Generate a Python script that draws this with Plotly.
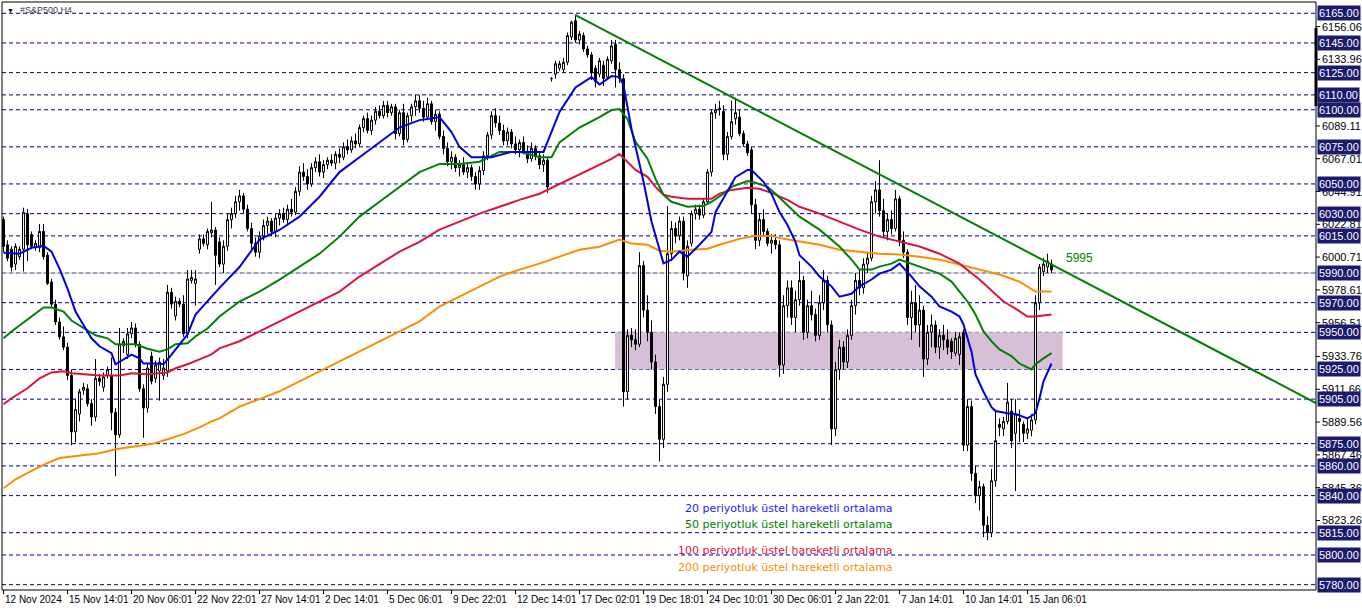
import plotly.graph_objects as go

# ---------------- data ----------------
bar_open = [6026, 6009, 6006, 5996, 6001, 6006, 6030, 6016, 6007, 6007,
            6018, 6002, 5984, 5969, 5957, 5947, 5940, 5921, 5883, 5895,
            5911, 5912, 5902, 5893, 5919, 5913, 5921, 5921, 5896, 5881,
            5941, 5935, 5949, 5953, 5942, 5912, 5899, 5934, 5919, 5924,
            5921, 5924, 5977, 5961, 5971, 5969, 5949, 5985, 5983, 6006,
            6013, 6009, 6017, 6019, 6011,
            5996, 6008, 6026, 6030, 6038, 6042, 6033, 6020, 6010, 6004,
            6015, 6022, 6025, 6018, 6027, 6030, 6026, 6033, 6031, 6045,
            6058, 6055, 6050, 6061, 6065, 6058, 6063, 6066, 6064, 6070,
            6068, 6075, 6073, 6079, 6077, 6088, 6094, 6086, 6093, 6099,
            6096, 6103, 6098, 6102, 6084, 6098, 6080, 6096, 6102, 6106,
            6101, 6095, 6104, 6092, 6097, 6082, 6074, 6065, 6068, 6061,
            6063, 6058, 6061, 6055, 6050, 6059, 6069, 6083, 6096, 6091,
            6086, 6079, 6085, 6077, 6073, 6078, 6072, 6067, 6074, 6069,
            6063, 6066, 6121, 6124, 6128, 6127, 6132, 6149, 6160, 6147,
            6150, 6141, 6137, 6128, 6124, 6130, 6122, 6133, 6144, 6127,
            6121, 5910, 5948, 5945, 5942, 5995, 5965, 5950, 5930, 5900,
            5878, 5915, 6003, 6020, 6015, 6025, 5988, 6010, 6030, 6033,
            6029, 6038, 6058, 6098, 6100, 6099, 6070, 6082, 6094, 6095,
            6084, 6077, 6073, 6036, 6012, 6026, 6018, 6010, 6012, 6009,
            5928, 5968, 5980, 5960, 5972, 5985, 5950, 5968, 5962, 5948,
            5970, 5985, 5955, 5885, 5925, 5940, 5930, 5948, 5968, 5985,
            5980, 5996, 6000, 6038, 6046, 6032, 6018, 6026, 6020, 6040,
            6012, 6004, 5960, 5970, 5955, 5965, 5932, 5950, 5955, 5940,
            5948, 5945, 5944, 5936, 5935, 5950, 5874, 5900, 5855, 5840,
            5846, 5820, 5815, 5850, 5888, 5885, 5890, 5897, 5882, 5892,
            5888, 5882, 5884, 5891, 5970, 5991, 5994, 5996]
bar_high = [6028, 6012, 6008, 6010, 6008, 6034, 6033, 6018, 6012, 6023,
            6023, 6004, 5986, 5972, 5960, 5954, 5943, 5925, 5905, 5912,
            5916, 5915, 5905, 5932, 5922, 5923, 5927, 5933, 5899, 5953,
            5946, 5953, 5957, 5956, 5944, 5915, 5929, 5937, 5931, 5933,
            5932, 5982, 5980, 5974, 5973, 5975, 5992, 5992, 5992, 6016,
            6016, 6020, 6038, 6021, 6014,
            6012, 6030, 6034, 6042, 6046, 6044, 6036, 6024, 6014, 6018,
            6026, 6028, 6027, 6030, 6033, 6034, 6036, 6040, 6048, 6062,
            6064, 6060, 6064, 6068, 6070, 6066, 6068, 6070, 6072, 6074,
            6078, 6080, 6082, 6084, 6090, 6096, 6098, 6096, 6102, 6103,
            6106, 6106, 6104, 6104, 6100, 6104, 6098, 6104, 6110, 6110,
            6106, 6108, 6106, 6100, 6099, 6086, 6078, 6072, 6070, 6066,
            6068, 6064, 6063, 6058, 6062, 6072, 6085, 6099, 6101, 6096,
            6090, 6088, 6087, 6082, 6080, 6082, 6076, 6078, 6076, 6072,
            6070, 6068, 6122, 6133, 6133, 6135, 6152, 6160, 6164, 6153,
            6152, 6143, 6139, 6130, 6135, 6133, 6136, 6147, 6147, 6132,
            6124, 5952, 5953, 5952, 6004, 5998, 5975, 5958, 5935, 5905,
            5920, 6035, 6025, 6024, 6028, 6028, 6012, 6032, 6036, 6036,
            6040, 6060, 6100, 6104, 6106, 6103, 6085, 6106, 6108, 6100,
            6086, 6079, 6075, 6040, 6030, 6033, 6020, 6016, 6016, 6012,
            5975, 5985, 5985, 5978, 5998, 5988, 5972, 5978, 5966, 5975,
            5992, 5988, 5958, 5930, 5945, 5944, 5952, 5972, 5990, 5992,
            6000, 6004, 6042, 6052, 6066, 6040, 6030, 6032, 6046, 6042,
            6018, 6006, 5978, 5982, 5975, 5968, 5955, 5962, 5958, 5952,
            5955, 5952, 5946, 5950, 5950, 5952, 5905, 5904, 5860, 5850,
            5848, 5826, 5858, 5898, 5892, 5893, 5916, 5905, 5905, 5898,
            5890, 5892, 5895, 5975, 5996, 6000, 6003, 5999]
bar_low = [6004, 5998, 5991, 5992, 5999, 5991, 5998, 6006, 6005, 6004,
           5999, 5982, 5967, 5955, 5945, 5938, 5918, 5874, 5876, 5890,
           5908, 5900, 5887, 5890, 5914, 5910, 5919, 5884, 5853, 5879,
           5936, 5932, 5946, 5940, 5910, 5879, 5896, 5915, 5916, 5904,
           5918, 5920, 5966, 5958, 5967, 5947, 5946, 5983, 5968, 6003,
           6008, 6006, 6014, 5982, 5994,
           5990, 6005, 6020, 6027, 6032, 6030, 6018, 6006, 6001, 6000,
           6012, 6016, 6015, 6014, 6022, 6024, 6022, 6028, 6029, 6042,
           6052, 6046, 6048, 6058, 6055, 6054, 6060, 6062, 6060, 6064,
           6066, 6070, 6071, 6074, 6075, 6085, 6084, 6083, 6090, 6094,
           6094, 6095, 6096, 6080, 6082, 6076, 6078, 6092, 6096, 6098,
           6092, 6093, 6090, 6086, 6080, 6070, 6062, 6060, 6058, 6055,
           6056, 6054, 6052, 6046, 6046, 6056, 6066, 6080, 6088, 6083,
           6076, 6076, 6074, 6070, 6068, 6070, 6064, 6065, 6066, 6060,
           6058, 6044, 6119, 6121, 6126, 6125, 6130, 6147, 6145, 6144,
           6139, 6135, 6120, 6115, 6122, 6116, 6120, 6131, 6115, 6118,
           5900, 5905, 5940, 5938, 5940, 5960, 5944, 5925, 5895, 5863,
           5872, 5910, 5998, 6010, 6012, 5985, 5980, 6008, 6026, 6026,
           6027, 6036, 6055, 6094, 6096, 6066, 6066, 6080, 6090, 6082,
           6075, 6069, 6030, 6006, 6008, 6015, 6008, 6003, 6006, 5920,
           5922, 5960, 5955, 5950, 5968, 5945, 5946, 5958, 5944, 5945,
           5965, 5950, 5874, 5880, 5918, 5925, 5926, 5945, 5962, 5975,
           5976, 5990, 5998, 6030, 6028, 6014, 6012, 6016, 6018, 6008,
           6000, 5955, 5945, 5950, 5940, 5920, 5928, 5940, 5936, 5932,
           5938, 5935, 5932, 5934, 5928, 5870, 5870, 5850, 5835, 5830,
           5812, 5810, 5812, 5846, 5880, 5880, 5888, 5872, 5843, 5876,
           5876, 5878, 5880, 5888, 5965, 5988, 5990, 5990]
bar_close = [6008, 6000, 5994, 6008, 6006, 6031, 6009, 6008, 6010, 6018,
             6001, 5983, 5969, 5957, 5947, 5940, 5921, 5883, 5898, 5910,
             5913, 5902, 5893, 5919, 5917, 5920, 5925, 5896, 5881, 5942,
             5944, 5949, 5953, 5942, 5912, 5899, 5926, 5917, 5928, 5930,
             5926, 5977, 5969, 5971, 5969, 5949, 5986, 5987, 5986, 6013,
             6010, 6018, 6019, 6002, 5996,
             6008, 6026, 6030, 6038, 6042, 6033, 6020, 6010, 6004, 6015,
             6022, 6025, 6018, 6027, 6030, 6026, 6033, 6031, 6045, 6058,
             6055, 6050, 6061, 6065, 6058, 6063, 6066, 6064, 6070, 6068,
             6075, 6073, 6079, 6077, 6088, 6094, 6086, 6093, 6099, 6096,
             6103, 6098, 6102, 6084, 6098, 6080, 6096, 6102, 6106, 6101,
             6095, 6104, 6092, 6097, 6082, 6074, 6065, 6068, 6061, 6063,
             6058, 6061, 6055, 6050, 6059, 6069, 6083, 6096, 6091, 6086,
             6079, 6085, 6077, 6073, 6078, 6072, 6067, 6074, 6069, 6063,
             6066, 6048, 6121, 6131, 6131, 6132, 6150, 6159, 6147, 6151,
             6141, 6137, 6125, 6119, 6133, 6121, 6134, 6143, 6127, 6121,
             5910, 5948, 5945, 5942, 5995, 5965, 5950, 5930, 5900, 5878,
             5915, 6003, 6020, 6015, 6025, 5990, 6008, 6030, 6033, 6029,
             6038, 6058, 6098, 6100, 6101, 6070, 6082, 6092, 6098, 6084,
             6077, 6071, 6036, 6012, 6026, 6018, 6010, 6012, 6009, 5928,
             5968, 5980, 5960, 5972, 5985, 5950, 5968, 5962, 5948, 5970,
             5985, 5955, 5885, 5925, 5940, 5930, 5948, 5968, 5985, 5980,
             5996, 6000, 6038, 6046, 6032, 6018, 6026, 6020, 6040, 6012,
             6004, 5960, 5970, 5955, 5965, 5932, 5950, 5955, 5940, 5948,
             5945, 5940, 5937, 5946, 5947, 5874, 5900, 5855, 5840, 5846,
             5820, 5815, 5850, 5877, 5886, 5890, 5903, 5877, 5895, 5890,
             5882, 5885, 5891, 5970, 5994, 5996, 5998, 5992]

ema20_bar = [0, 4, 7, 10, 12, 14, 16, 18, 20, 22, 24, 27, 28, 30, 32, 34, 35, 38, 40, 42,
             44, 46, 48, 52, 54, 59, 64, 69, 74, 79, 84, 89, 94, 99, 104, 109, 112, 114, 117, 122,
             127, 132, 135, 139, 143, 147, 149, 152, 154, 155, 157, 160, 162, 165, 167, 169, 171, 174, 177, 178,
             181, 183, 186, 187, 190, 192, 194, 196, 198, 199, 202, 204, 207, 209, 212, 214, 217, 219, 222, 224,
             227, 229, 232, 234, 237, 239, 240, 242, 243, 245, 247, 248, 251, 253, 256, 258, 259, 260, 262]
ema20_val = [6003.7, 6003, 6007, 6008.4, 6004.4, 5993, 5979.5, 5964, 5955, 5946, 5940.6, 5936, 5928.5, 5932, 5935, 5932.5, 5929, 5929, 5928.5, 5935,
             5942, 5948.6, 5962, 5974, 5980, 5994, 6012.5, 6019, 6028, 6041.4, 6058, 6068, 6078, 6088, 6093, 6095, 6085, 6075, 6068, 6068,
             6071.6, 6071.6, 6071.6, 6098.5, 6115, 6122, 6117, 6122.7, 6122, 6116.5, 6087, 6051.6, 6024.7, 5996.5, 5999, 6004.4, 6001, 6009, 6017.7, 6031,
             6044.6, 6054.6, 6059.4, 6059.4, 6051.4, 6043.3, 6031, 6022.3, 6010.9, 6002, 5994.3, 5987.6, 5981, 5974, 5976, 5981, 5985.6, 5989.6, 5992.3, 5996.3,
             5987.6, 5981, 5974, 5967.4, 5964, 5960.7, 5955.3, 5937, 5921.7, 5910, 5899.6, 5897, 5895.5, 5895, 5892, 5895.5, 5905.6, 5917, 5929]

ema50_bar = [0, 2, 6, 8, 10, 12, 15, 17, 21, 23, 26, 28, 31, 33, 36, 39, 41, 43, 46, 48,
             51, 54, 59, 64, 69, 74, 79, 84, 89, 94, 99, 104, 109, 114, 119, 124, 129, 134, 137, 139,
             144, 149, 152, 154, 156, 158, 161, 163, 165, 167, 171, 175, 177, 180, 182, 186, 188, 191, 193, 196,
             199, 204, 209, 212, 214, 217, 219, 222, 224, 229, 234, 237, 241, 243, 245, 247, 249, 252, 254, 257,
             258, 260, 262]
ema50_val = [5946, 5950.6, 5958.7, 5962.7, 5966.8, 5966.8, 5964, 5958, 5951.3, 5948, 5946, 5942, 5942, 5942, 5939, 5937, 5938.5, 5942, 5942.6, 5947.3,
             5952.6, 5960.7, 5970.8, 5977.5, 5985.6, 5994.3, 6003, 6014.5, 6028, 6038, 6048, 6058, 6063.5, 6063.5, 6065, 6071.6, 6071.6, 6068, 6068, 6078,
             6088, 6095, 6099.8, 6100.5, 6093.8, 6078.3, 6067, 6053.4, 6042.7, 6038, 6034.6, 6035.3, 6038, 6043.4, 6048, 6052, 6050.8, 6048, 6043.4, 6036,
             6028, 6019.2, 6007.8, 5999, 5992.3, 5992.3, 5994.3, 5996.3, 5999, 5994.3, 5989.6, 5984.2, 5970.8, 5962, 5950.6, 5944, 5938.5, 5934, 5929, 5925,
             5928.5, 5932.5, 5936]

ema100_bar = [0, 2, 6, 9, 12, 15, 17, 21, 24, 29, 32, 36, 39, 41, 43, 46, 49, 52, 54, 59,
              64, 69, 74, 79, 84, 89, 94, 99, 104, 109, 114, 119, 124, 129, 134, 139, 144, 149, 152, 154,
              156, 158, 161, 163, 165, 167, 171, 177, 179, 182, 186, 189, 192, 196, 199, 204, 209, 214, 219, 224,
              229, 234, 239, 244, 250, 253, 256, 258, 262]
ema100_val = [5901.6, 5905.6, 5912.3, 5919, 5923, 5923.8, 5922.4, 5921.7, 5921, 5921, 5922.4, 5921.7, 5922.4, 5923, 5925.8, 5928.5, 5931.8, 5935.2, 5939.2, 5944,
              5950.6, 5957.4, 5964, 5970.8, 5977.5, 5987.6, 5996.3, 6004.4, 6011, 6019.2, 6024.6, 6030, 6034.6, 6039.3, 6043.4, 6050, 6056.8, 6063.5, 6066.9, 6070.2,
              6065, 6059.5, 6054.8, 6048, 6042.7, 6041.4, 6040, 6040, 6043.4, 6046, 6047.4, 6046.7, 6044, 6039.3, 6034.6, 6030, 6024.6, 6019.2, 6014.5, 6011.1,
              6007.8, 6003, 5996.3, 5985.6, 5970.8, 5966, 5960.7, 5960.7, 5962]

ema200_bar = [0, 3, 7, 11, 14, 20, 24, 28, 32, 37, 41, 45, 49, 52, 54, 59, 64, 69, 74, 79,
              84, 89, 94, 99, 104, 109, 114, 119, 124, 129, 134, 139, 144, 149, 154, 157, 161, 164, 167, 172,
              176, 179, 184, 188, 192, 195, 199, 204, 209, 214, 219, 224, 229, 234, 239, 244, 249, 254, 258, 262]
ema200_val = [5845, 5851, 5856.6, 5862, 5865.3, 5867.3, 5868.6, 5871.3, 5872.7, 5874.7, 5878, 5881.4, 5886, 5890, 5892, 5900, 5905, 5910.3, 5917, 5923.8,
              5930.5, 5937.2, 5944, 5950.6, 5957.4, 5967.4, 5974.2, 5981, 5987.6, 5992.3, 5996.3, 6001, 6005.7, 6007.7, 6012.5, 6009.8, 6009, 6005, 6004.4, 6005.7,
              6006.4, 6009, 6013, 6015, 6015, 6013, 6011, 6009, 6005.7, 6004.4, 6003, 6002.4, 6001, 5999, 5995.7, 5992.3, 5989, 5984.2, 5977.5, 5977.5]

level_prices = [6165, 6145, 6125, 6110, 6100, 6075, 6050, 6030, 6015, 5990,
                5970, 5950, 5925, 5905, 5875, 5860, 5840, 5815, 5800, 5780]
axis_prices = [6156.06, 6133.96, 6089.11, 6067.01, 6044.91, 6022.81, 6000.71, 5978.61,
               5956.51, 5933.76, 5911.66, 5889.56, 5867.46, 5845.36, 5823.26]
bid_price = 5990

tick_bars = [0, 16, 32, 48, 64, 80, 96, 112, 128, 144, 160, 176, 192, 208, 224, 240, 256]
tick_labels = ["12 Nov 2024", "15 Nov 14:01", "20 Nov 06:01", "22 Nov 22:01", "27 Nov 14:01",
               "2 Dec 14:01", "5 Dec 06:01", "9 Dec 22:01", "12 Dec 14:01", "17 Dec 02:01",
               "19 Dec 18:01", "24 Dec 10:01", "30 Dec 06:01", "2 Jan 22:01", "7 Jan 14:01",
               "10 Jan 14:01", "15 Jan 06:01"]

trend_bar = [142.9, 328.1]
trend_val = [6163.9, 5902.4]
zone_bar = [152.9, 264.8]
zone_val = [5925, 5950]

legend_texts = ["20 periyotluk üstel hareketli ortalama", "50 periyotluk üstel hareketli ortalama",
                "100 periyotluk üstel hareketli ortalama", "200 periyotluk üstel hareketli ortalama"]
legend_colors = ["#1a1aff", "#008000", "#dc143c", "#ff8c00"]
legend_anchor_bar = 222.9
legend_anchor_val = [5831, 5820.5, 5803, 5791.5]
target_text = "5995"
target_bar = 268.9
target_val = 6000.4

# ---------------- figure ----------------
FONT = "Liberation Sans, Arial, sans-serif"
CAP_FONT = "DejaVu Sans, Verdana, sans-serif"
NAVY = "#000080"
fig = go.Figure()

shapes = []
shapes.append(dict(type="rect", xref="x", yref="y", x0=zone_bar[0], x1=zone_bar[1],
                   y0=zone_val[0], y1=zone_val[1], fillcolor="#d8bfd8",
                   line=dict(width=0), layer="below"))
for p in level_prices:
    shapes.append(dict(type="line", xref="paper", yref="y", x0=0, x1=1, y0=p, y1=p,
                       line=dict(color=NAVY, width=1, dash="4px,3px"), layer="below"))
shapes.append(dict(type="line", xref="paper", yref="y", x0=0, x1=1, y0=bid_price, y1=bid_price,
                   line=dict(color="#c0c0c0", width=1), layer="below"))

x_bars = list(range(len(bar_open)))
fig.add_trace(go.Candlestick(
    x=x_bars, open=bar_open, high=bar_high, low=bar_low, close=bar_close,
    increasing=dict(line=dict(color="black", width=1), fillcolor="white"),
    decreasing=dict(line=dict(color="black", width=1), fillcolor="black"),
    whiskerwidth=0, hoverinfo="skip", showlegend=False))

for bx, by, col in [(ema200_bar, ema200_val, "#ff8c00"), (ema100_bar, ema100_val, "#dc143c"),
                    (ema50_bar, ema50_val, "#008000"), (ema20_bar, ema20_val, "#0000dd")]:
    fig.add_trace(go.Scatter(x=bx, y=by, mode="lines", line=dict(color=col, width=2),
                             hoverinfo="skip", showlegend=False))

fig.add_trace(go.Scatter(x=trend_bar, y=trend_val, mode="lines",
                         line=dict(color="#008000", width=2), hoverinfo="skip", showlegend=False))

annotations = []
for p in axis_prices:
    annotations.append(dict(xref="paper", yref="y", x=1, y=p, xanchor="left", yanchor="middle",
                            xshift=4, text=f"{p:.2f}", showarrow=False,
                            font=dict(family=FONT, size=11, color="black")))
    shapes.append(dict(type="line", xref="paper", yref="y", x0=1, x1=1.003, y0=p, y1=p,
                       line=dict(color="black", width=1)))
for p in level_prices:
    annotations.append(dict(xref="paper", yref="y", x=1, y=p, xanchor="left", yanchor="middle",
                            xshift=1, text=f"{p:.2f}", showarrow=False, bgcolor="#1a1a6e",
                            borderpad=1, font=dict(family=FONT, size=11, color="white")))
for b, t in zip(tick_bars, tick_labels):
    shapes.append(dict(type="line", xref="x", yref="paper", x0=b, x1=b, y0=0, y1=-0.007,
                       line=dict(color="black", width=1)))
    annotations.append(dict(xref="x", yref="paper", x=b, y=-0.004, xanchor="left", yanchor="top",
                            xshift=-1, text=t, showarrow=False,
                            font=dict(family=FONT, size=10, color="black")))
for txt, col, v in zip(legend_texts, legend_colors, legend_anchor_val):
    annotations.append(dict(xref="x", yref="y", x=legend_anchor_bar, y=v, xanchor="right",
                            yanchor="middle", text=txt, showarrow=False,
                            font=dict(family=CAP_FONT, size=11, color=col)))
annotations.append(dict(xref="x", yref="y", x=target_bar, y=target_val, xanchor="center",
                        yanchor="middle", text=target_text, showarrow=False,
                        font=dict(family=FONT, size=12, color="#008000")))
annotations.append(dict(xref="paper", yref="paper", x=0, y=1, xanchor="left", yanchor="top",
                        xshift=3, yshift=-3, text="▼", showarrow=False,
                        font=dict(family=FONT, size=7, color="black")))
annotations.append(dict(xref="paper", yref="paper", x=0, y=1, xanchor="left", yanchor="top",
                        xshift=16, yshift=-1, text="#S&P500,H4", showarrow=False,
                        font=dict(family=FONT, size=9, color="#404040")))

# frame and right-axis marker
shapes.append(dict(type="rect", xref="paper", yref="paper", x0=0, x1=1, y0=0, y1=1,
                   line=dict(color="black", width=1)))
shapes.append(dict(type="line", xref="paper", yref="paper", x0=1, x1=1, y0=0.823, y1=0.956,
                   line=dict(color="black", width=3)))

fig.update_layout(
    width=1362, height=611,
    margin=dict(l=2, r=46, t=2, b=21),
    paper_bgcolor="white", plot_bgcolor="white",
    showlegend=False,
    xaxis=dict(range=[-0.375, 328.125], visible=False, rangeslider=dict(visible=False),
               fixedrange=True),
    yaxis=dict(range=[5776.4, 6172.6], visible=False, fixedrange=True),
    shapes=shapes, annotations=annotations,
)

fig.write_html("out.html",
               config={"displayModeBar": False, "staticPlot": True},
               post_script="document.body.style.margin='0px';document.body.style.overflow='hidden';")
